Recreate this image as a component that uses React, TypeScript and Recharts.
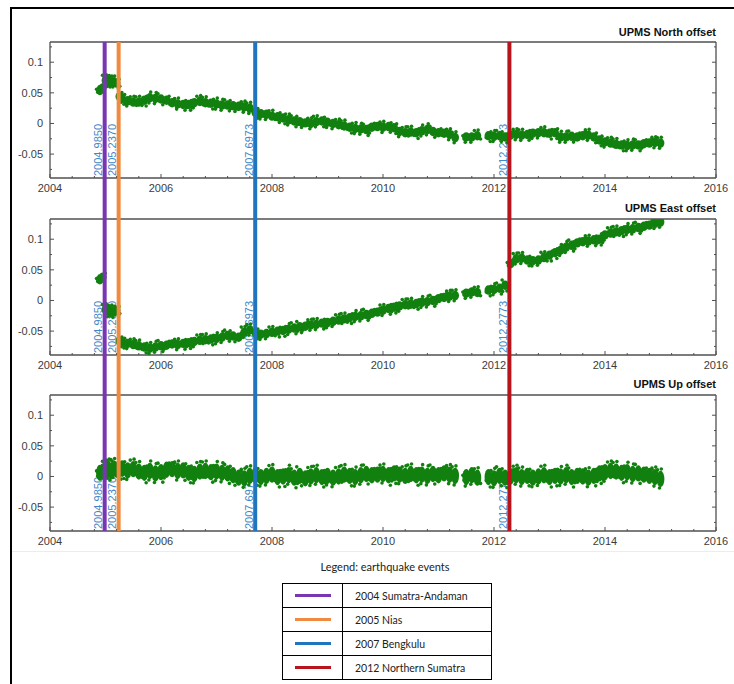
import React from "react";
import { ScatterChart, Scatter, XAxis, YAxis, ReferenceLine } from "recharts";

// sample times (decimal years), shared by the three components
const years = [
  2004.9, 2004.95, 2005.0, 2005.05, 2005.1, 2005.15, 2005.2, 2005.25,
  2005.3, 2005.4, 2005.5, 2005.6, 2005.7, 2005.8, 2005.9,
  2006.0, 2006.1, 2006.2, 2006.3, 2006.4, 2006.5, 2006.6, 2006.7, 2006.8, 2006.9,
  2007.0, 2007.1, 2007.2, 2007.3, 2007.4, 2007.5, 2007.6, 2007.7, 2007.8, 2007.9,
  2008.0, 2008.1, 2008.2, 2008.3, 2008.4, 2008.5, 2008.6, 2008.7, 2008.8, 2008.9,
  2009.0, 2009.1, 2009.2, 2009.3, 2009.4, 2009.5, 2009.6, 2009.7, 2009.8, 2009.9,
  2010.0, 2010.1, 2010.2, 2010.3, 2010.4, 2010.5, 2010.6, 2010.7, 2010.8, 2010.9,
  2011.0, 2011.1, 2011.2, 2011.3, 2011.5, 2011.6, 2011.7, 2011.9,
  2012.0, 2012.1, 2012.2, 2012.3, 2012.4, 2012.5, 2012.6, 2012.7, 2012.8, 2012.9,
  2013.0, 2013.1, 2013.2, 2013.3, 2013.4, 2013.5, 2013.6, 2013.7, 2013.8, 2013.9,
  2014.0, 2014.1, 2014.2, 2014.3, 2014.4, 2014.5, 2014.6, 2014.7, 2014.8, 2014.9,
  2015.0,
];

const north = [
  0.054, 0.058, 0.07, 0.069, 0.068, 0.068, 0.066, 0.044,
  0.041, 0.037, 0.035, 0.035, 0.038, 0.042, 0.041,
  0.04, 0.038, 0.034, 0.032, 0.031, 0.031, 0.034, 0.036, 0.034, 0.033,
  0.032, 0.03, 0.03, 0.029, 0.028, 0.027, 0.025, 0.018, 0.016, 0.015,
  0.012, 0.011, 0.009, 0.006, 0.004, 0.003, 0.001, 0.0, 0.003, 0.004,
  0.002, 0.0, -0.002, -0.004, -0.006, -0.008, -0.009, -0.01, -0.006, -0.005,
  -0.006, -0.005, -0.007, -0.013, -0.015, -0.014, -0.015, -0.012, -0.01, -0.013,
  -0.015, -0.016, -0.018, -0.023, -0.022, -0.022, -0.02, -0.02,
  -0.021, -0.02, -0.022, -0.019, -0.018, -0.019, -0.018, -0.016, -0.015, -0.015,
  -0.016, -0.015, -0.022, -0.022, -0.021, -0.022, -0.02, -0.019, -0.022, -0.027,
  -0.03, -0.032, -0.034, -0.035, -0.036, -0.035, -0.035, -0.033, -0.032, -0.031,
  -0.032,
];

const east = [
  0.034, 0.038, -0.015, -0.018, -0.017, -0.019, -0.016, -0.066,
  -0.068, -0.07, -0.072, -0.074, -0.076, -0.078, -0.076,
  -0.074, -0.073, -0.071, -0.072, -0.07, -0.069, -0.067, -0.065, -0.064, -0.063,
  -0.062, -0.06, -0.057, -0.058, -0.06, -0.052, -0.048, -0.053, -0.055, -0.054,
  -0.052, -0.05, -0.049, -0.047, -0.045, -0.043, -0.042, -0.04, -0.039, -0.037,
  -0.036, -0.034, -0.032, -0.03, -0.028, -0.026, -0.025, -0.023, -0.021, -0.019,
  -0.016, -0.013, -0.011, -0.009, -0.007, -0.006, -0.005, -0.003, -0.002, 0.0,
  0.003, 0.005, 0.007, 0.008, 0.012, 0.014, 0.013, 0.017,
  0.018, 0.02, 0.025, 0.06, 0.068, 0.069, 0.066, 0.065, 0.066, 0.07,
  0.074, 0.078, 0.082, 0.087, 0.09, 0.094, 0.096, 0.097, 0.099, 0.1,
  0.107, 0.11, 0.112, 0.114, 0.116, 0.117, 0.119, 0.121, 0.123, 0.126,
  0.128,
];

const up = [
  0.006, 0.008, 0.01, 0.012, 0.009, 0.013, 0.011, 0.012,
  0.013, 0.01, 0.012, 0.008, 0.006, 0.009, 0.005,
  0.007, 0.011, 0.012, 0.009, 0.01, 0.006, 0.004, 0.008, 0.009, 0.007,
  0.008, 0.006, 0.005, 0.002, -0.002, -0.003, 0.001, 0.002, -0.001, 0.001,
  0.003, -0.001, 0.0, 0.002, -0.002, 0.001, -0.003, 0.0, 0.002, -0.001,
  0.001, -0.002, 0.0, 0.003, 0.001, -0.001, 0.002, 0.004, 0.002, 0.003,
  0.004, 0.002, 0.005, 0.003, 0.001, 0.004, 0.002, 0.003, 0.001, 0.004,
  0.002, 0.005, 0.003, 0.001, -0.001, 0.002, -0.002, -0.001,
  -0.003, 0.001, -0.002, 0.0, 0.002, -0.001, 0.001, -0.002, 0.0, 0.002,
  -0.001, 0.001, 0.0, 0.002, -0.001, 0.001, 0.0, -0.002, 0.001, 0.005,
  0.007, 0.009, 0.008, 0.006, 0.007, 0.004, 0.005, 0.003, 0.001, -0.001,
  -0.004,
];

const panelTitles = ["UPMS North offset", "UPMS East offset", "UPMS Up offset"];

const eventYears = [2004.985, 2005.237, 2007.6973, 2012.2773];
const eventLabels = ["2004.9850", "2005.2370", "2007.6973", "2012.2773"];
const eventNames = ["2004 Sumatra-Andaman", "2005 Nias", "2007 Bengkulu", "2012 Northern Sumatra"];
const eventColors = ["#7a36b2", "#f08a40", "#1f76bf", "#b8141c"];

const xMajor = [2004, 2006, 2008, 2010, 2012, 2014, 2016];
const xTicks = [
  2004, 2004.4, 2004.8, 2005.2, 2005.6, 2006, 2006.4, 2006.8, 2007.2, 2007.6,
  2008, 2008.4, 2008.8, 2009.2, 2009.6, 2010, 2010.4, 2010.8, 2011.2, 2011.6,
  2012, 2012.4, 2012.8, 2013.2, 2013.6, 2014, 2014.4, 2014.8, 2015.2, 2015.6, 2016,
];
const yMajor = [-0.05, 0, 0.05, 0.1];
const yMajorLabels = ["-0.05", "0", "0.05", "0.1"];
const yTicks = [-0.075, -0.05, -0.025, 0, 0.025, 0.05, 0.075, 0.1, 0.125];

const W = 734;
const GREEN = "#11800f";
const AXIS = "#505050";
const TICK_TEXT = "#3c3c3c";
const LABEL_BLUE = "#3f88c8";
const FONT = "'Liberation Sans', Arial, sans-serif";

// panel boxes: svg top/height, space above and below the plot area
const layout = [
  { top: 0, height: 200, mt: 42, mb: 22, ry: 5.5 },
  { top: 200, height: 177, mt: 19, mb: 22, ry: 5.5 },
  { top: 377, height: 171, mt: 18, mb: 17, ry: 9.5 },
];
const seriesList = [north, east, up];

// speckle pattern for the dense daily markers (marker style, relative offsets)
const speckDx = [-3, 2.5, -1, 3.2, -2.2, 0.8, 1.8, -3.4];
const speckDy = [-0.95, -0.7, 0.95, 0.6, 0.35, -1.05, 1.05, -0.2];

function DenseMarker({ cx, cy, ry }: { cx: number; cy: number; ry: number }) {
  const k = Math.abs(Math.round(cx * 3)) % speckDx.length;
  const dots = [0, 3, 5].map((o) => (k + o) % speckDx.length);
  return (
    <g fill={GREEN}>
      <ellipse cx={cx} cy={cy} rx={3.9} ry={ry * 0.86} />
      {dots.map((d) => (
        <circle key={d} cx={cx + speckDx[d]} cy={cy + speckDy[d] * ry} r={1.8} />
      ))}
    </g>
  );
}

function XTick(props: any) {
  const { x, y, payload, side } = props;
  const major = xMajor.includes(payload.value);
  const len = major ? 4 : 2;
  const dir = side === "top" ? 1 : -1;
  return (
    <g>
      <line x1={x} x2={x} y1={y} y2={y + dir * len} stroke={AXIS} strokeWidth={1} />
      {side === "bottom" && major && (
        <text x={x} y={y + 14} textAnchor="middle" fontSize={11} fontFamily={FONT} fill={TICK_TEXT}>
          {payload.value}
        </text>
      )}
    </g>
  );
}

function YTick(props: any) {
  const { x, y, payload, side } = props;
  const idx = yMajor.findIndex((m) => Math.abs(m - payload.value) < 1e-9);
  const len = idx >= 0 ? 4 : 2;
  const dir = side === "left" ? 1 : -1;
  return (
    <g>
      <line x1={x} x2={x + dir * len} y1={y} y2={y} stroke={AXIS} strokeWidth={1} />
      {side === "left" && idx >= 0 && (
        <text x={x - 7} y={y + 4} textAnchor="end" fontSize={11} fontFamily={FONT} fill={TICK_TEXT}>
          {yMajorLabels[idx]}
        </text>
      )}
    </g>
  );
}

function Panel({ index }: { index: number }) {
  const cfg = layout[index];
  const values = seriesList[index];
  const data = years.map((t, i) => ({ t, v: values[i] }));
  const axisLine = { stroke: AXIS, strokeWidth: 1.3 };
  return (
    <div style={{ position: "absolute", left: 0, top: cfg.top, width: W, height: cfg.height }}>
      <ScatterChart
        width={W}
        height={cfg.height}
        margin={{ top: cfg.mt - 1, right: 17, bottom: 0, left: 8 }}
      >
        <XAxis
          dataKey="t"
          type="number"
          domain={[2004, 2016]}
          allowDataOverflow
          ticks={xTicks}
          interval={0}
          height={cfg.mb}
          tickSize={0}
          tickMargin={0}
          tickLine={false}
          axisLine={axisLine}
          tick={(p: any) => <XTick {...p} side="bottom" />}
        />
        <XAxis
          xAxisId="top"
          orientation="top"
          type="number"
          domain={[2004, 2016]}
          allowDataOverflow
          ticks={xTicks}
          interval={0}
          height={1}
          tickSize={0}
          tickMargin={0}
          tickLine={false}
          axisLine={axisLine}
          tick={(p: any) => <XTick {...p} side="top" />}
        />
        <YAxis
          dataKey="v"
          type="number"
          domain={[-0.089, 0.133]}
          allowDataOverflow
          ticks={yTicks}
          interval={0}
          width={42}
          tickSize={0}
          tickMargin={0}
          tickLine={false}
          axisLine={axisLine}
          tick={(p: any) => <YTick {...p} side="left" />}
        />
        <YAxis
          yAxisId="r"
          orientation="right"
          type="number"
          domain={[-0.089, 0.133]}
          allowDataOverflow
          ticks={yTicks}
          interval={0}
          width={1}
          tickSize={0}
          tickMargin={0}
          tickLine={false}
          axisLine={axisLine}
          tick={(p: any) => <YTick {...p} side="right" />}
        />
        {eventYears.map((yr, i) => (
          <ReferenceLine
            key={"lab" + i}
            x={yr}
            zIndex={100}
            shape={(p: any) => {
              const bottom = Math.max(p.y1, p.y2);
              return (
                <text
                  transform={`translate(${p.x1 - 2.5}, ${bottom - 2}) rotate(-90)`}
                  fontSize={11}
                  fontFamily={FONT}
                  fill={LABEL_BLUE}
                >
                  {eventLabels[i]}
                </text>
              );
            }}
          />
        ))}
        <Scatter
          data={data}
          fill={GREEN}
          isAnimationActive={false}
          shape={(p: any) => <DenseMarker cx={p.cx} cy={p.cy} ry={cfg.ry} />}
        />
        {eventYears.map((yr, i) => (
          <ReferenceLine
            key={"line" + i}
            x={yr}
            zIndex={1000}
            shape={(p: any) => {
              const top = Math.min(p.y1, p.y2) - (index > 0 ? cfg.mt : 0);
              const bottom = Math.max(p.y1, p.y2) + (index < 2 ? cfg.mb : 0);
              return <line x1={p.x1} x2={p.x1} y1={top} y2={bottom} stroke={eventColors[i]} strokeWidth={4} />;
            }}
          />
        ))}
      </ScatterChart>
    </div>
  );
}

const titleTops = [25, 201, 377];

export default function App() {
  return (
    <div
      style={{
        position: "absolute",
        left: 0,
        top: 0,
        width: W,
        height: 684,
        background: "#fff",
        overflow: "hidden",
        fontFamily: FONT,
      }}
    >
      <div
        style={{
          position: "absolute",
          left: 10,
          top: 7,
          width: 740,
          height: 700,
          borderTop: "2px solid #000",
          borderLeft: "2px solid #000",
        }}
      />
      {[0, 1, 2].map((i) => (
        <Panel key={i} index={i} />
      ))}
      {panelTitles.map((t, i) => (
        <div
          key={t}
          style={{
            position: "absolute",
            right: 18,
            top: titleTops[i],
            fontSize: 11,
            fontWeight: "bold",
            lineHeight: "14px",
            color: "#111",
          }}
        >
          {t}
        </div>
      ))}
      <div style={{ position: "absolute", left: 12, top: 551, width: 722, height: 1, background: "#ececec" }} />
      <div
        style={{
          position: "absolute",
          left: 250,
          width: 270,
          top: 560,
          textAlign: "center",
          fontFamily: "Lato, 'Open Sans', sans-serif",
          fontSize: 11,
          color: "#222",
        }}
      >
        Legend: earthquake events
      </div>
      <table
        style={{
          position: "absolute",
          left: 282,
          top: 583,
          width: 210,
          borderCollapse: "collapse",
          fontFamily: "Lato, 'Open Sans', sans-serif",
          fontSize: 10.5,
          color: "#222",
        }}
      >
        <tbody>
          {eventNames.map((name, i) => (
            <tr key={name} style={{ height: 24 }}>
              <td style={{ border: "1.5px solid #000", width: 59, padding: 0 }}>
                <div style={{ width: 36, height: 3, margin: "0 auto", background: eventColors[i] }} />
              </td>
              <td style={{ border: "1.5px solid #000", padding: "0 0 0 12px" }}>{name}</td>
            </tr>
          ))}
        </tbody>
      </table>
    </div>
  );
}
